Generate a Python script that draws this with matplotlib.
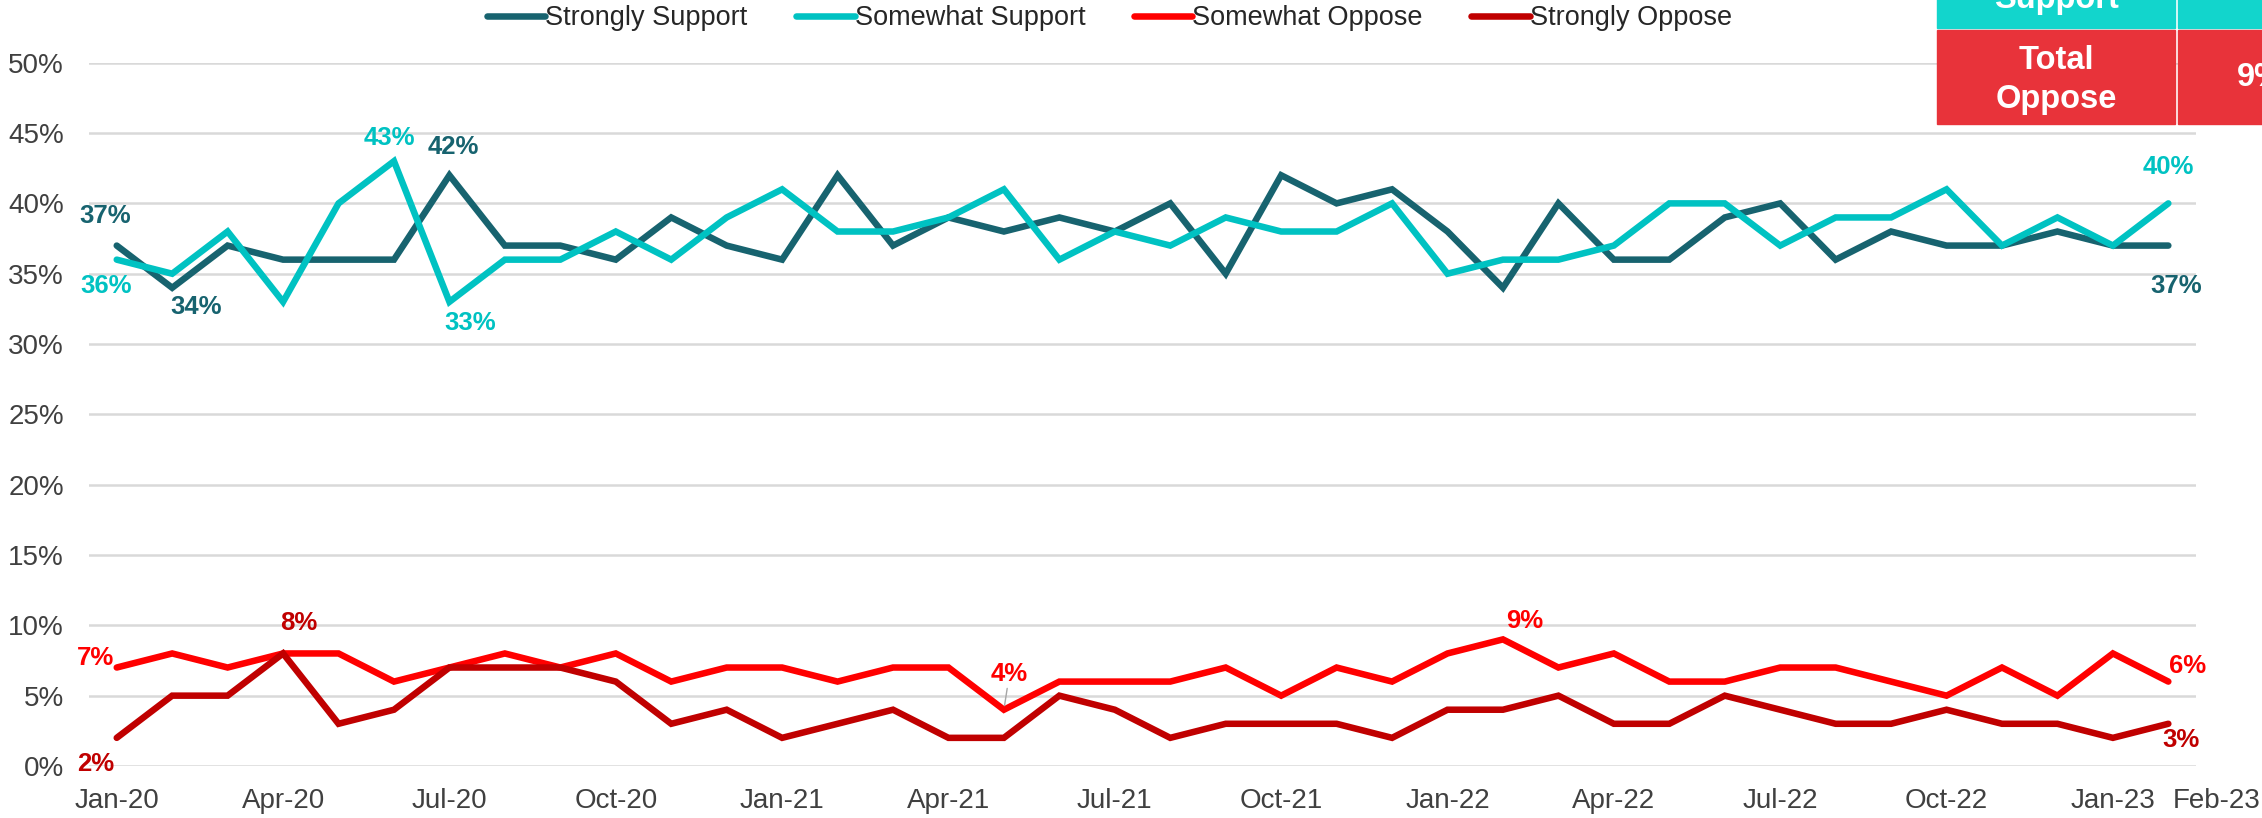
import matplotlib
matplotlib.use("Agg")
import matplotlib.pyplot as plt
import matplotlib.ticker as mtick
import matplotlib.transforms as mtrans
from matplotlib.patches import Rectangle

plt.rcParams["font.family"] = ["Liberation Sans", "DejaVu Sans"]

TEAL_DARK = "#17636F"
TEAL = "#00C2C2"
RED = "#FF0000"
RED_DARK = "#C00000"
TEXT = "#404040"
GRID = "#D9D9D9"

# monthly survey, Jan-20 .. Feb-23
months = ["Jan-20", "Feb-20", "Mar-20", "Apr-20", "May-20", "Jun-20", "Jul-20", "Aug-20",
          "Sep-20", "Oct-20", "Nov-20", "Dec-20", "Jan-21", "Feb-21", "Mar-21", "Apr-21",
          "May-21", "Jun-21", "Jul-21", "Aug-21", "Sep-21", "Oct-21", "Nov-21", "Dec-21",
          "Jan-22", "Feb-22", "Mar-22", "Apr-22", "May-22", "Jun-22", "Jul-22", "Aug-22",
          "Sep-22", "Oct-22", "Nov-22", "Dec-22", "Jan-23", "Feb-23"]

strongly_support = [37, 34, 37, 36, 36, 36, 42, 37, 37, 36, 39, 37,
                    36, 42, 37, 39, 38, 39, 38, 40, 35, 42, 40, 41,
                    38, 34, 40, 36, 36, 39, 40, 36, 38, 37, 37, 38,
                    37, 37]
somewhat_support = [36, 35, 38, 33, 40, 43, 33, 36, 36, 38, 36, 39,
                    41, 38, 38, 39, 41, 36, 38, 37, 39, 38, 38, 40,
                    35, 36, 36, 37, 40, 40, 37, 39, 39, 41, 37, 39,
                    37, 40]
somewhat_oppose = [7, 8, 7, 8, 8, 6, 7, 8, 7, 8, 6, 7,
                   7, 6, 7, 7, 4, 6, 6, 6, 7, 5, 7, 6,
                   8, 9, 7, 8, 6, 6, 7, 7, 6, 5, 7, 5,
                   8, 6]
strongly_oppose = [2, 5, 5, 8, 3, 4, 7, 7, 7, 6, 3, 4,
                   2, 3, 4, 2, 2, 5, 4, 2, 3, 3, 3, 2,
                   4, 4, 5, 3, 3, 5, 4, 3, 3, 4, 3, 3,
                   2, 3]

tick_months = ["Jan-20", "Apr-20", "Jul-20", "Oct-20", "Jan-21", "Apr-21", "Jul-21",
               "Oct-21", "Jan-22", "Apr-22", "Jul-22", "Oct-22", "Jan-23", "Feb-23"]

series = [
    ("Strongly Support", strongly_support, TEAL_DARK),
    ("Somewhat Support", somewhat_support, TEAL),
    ("Somewhat Oppose", somewhat_oppose, RED),
    ("Strongly Oppose", strongly_oppose, RED_DARK),
]

# (series index, month, dx, dy) for the called-out points
callouts = [
    (0, "Jan-20", -8, 21), (1, "Jan-20", -8, -19), (0, "Feb-20", 17, -14),
    (1, "Jun-20", -3, 17), (0, "Jul-20", 3, 20), (1, "Jul-20", 15, -15),
    (1, "Feb-23", 0, 26), (0, "Feb-23", 6, -29),
    (2, "Jan-20", -15, 7), (3, "Jan-20", -15, -19), (3, "Apr-20", 11, 22),
    (2, "May-21", 4, 26), (2, "Feb-22", 16, 13), (2, "Feb-23", 14, 11),
    (3, "Feb-23", 9, -12),
]

fig = plt.figure(figsize=(22.62, 8.18), dpi=100)
ax = fig.add_axes([0.03935, 0.0636, 0.9315, 0.8597])

x = list(range(len(months)))
for name, vals, color in series:
    ax.plot(x, [v / 100 for v in vals], color=color, linewidth=4.7, label=name,
            solid_joinstyle="miter", solid_capstyle="round", zorder=3)

for si, m, dx, dy in callouts:
    name, vals, color = series[si]
    i = months.index(m)
    v = vals[i]
    arrow = None
    if m == "May-21":
        arrow = dict(arrowstyle="-", color="#A6A6A6", lw=1, shrinkA=0, shrinkB=3)
    ax.annotate(f"{v}%", (i, v / 100), xytext=(dx, dy), textcoords="offset points",
                ha="center", va="center", fontsize=18.5, fontweight="bold", color=color,
                arrowprops=arrow, zorder=4)

ax.set_xlim(-0.5, len(months) - 0.5)
ax.set_ylim(0, 0.5)
ax.set_yticks([i / 100 for i in range(0, 51, 5)])
ax.yaxis.set_major_formatter(mtick.FuncFormatter(lambda v, _: f"{v * 100:.0f}%"))
ax.set_xticks([months.index(m) for m in tick_months])
ax.set_xticklabels(tick_months)
ax.tick_params(axis="both", length=0, labelsize=20, colors=TEXT)
ax.tick_params(axis="x", pad=16)
ax.tick_params(axis="y", pad=18)
ax.grid(True, axis="y", color=GRID, linewidth=1.8)
ax.set_axisbelow(True)
for s in ax.spines.values():
    s.set_visible(False)

# last two month labels sit close together; push the final one to the right
last = ax.get_xticklabels()[-1]
last.set_transform(last.get_transform() + mtrans.ScaledTranslation(35 / 72, 0, fig.dpi_scale_trans))

fig.legend(loc="center", bbox_to_anchor=(0.4905, 0.978), ncol=4, frameon=False,
           fontsize=19.5, handlelength=2.15, handletextpad=0.0, columnspacing=1.8,
           labelcolor="#262626")

# summary table in the top right corner
W, H = 2262, 818
def px_rect(x0, y0, x1, y1, color):
    fig.patches.append(Rectangle((x0 / W, 1 - y1 / H), (x1 - x0) / W, (y1 - y0) / H,
                                 transform=fig.transFigure, color=color, zorder=5))

px_rect(1937, -40, 2175, 28, "#12D5CC")
px_rect(2178, -40, 2300, 28, "#12D5CC")
px_rect(1937, 30, 2175, 124, "#E8333A")
px_rect(2178, 30, 2300, 124, "#E8333A")
fig.text(2056 / W, 1 - 8 / H, "Support", ha="center", va="baseline", fontsize=23.5,
         fontweight="bold", color="white", zorder=6)
fig.text(2056 / W, 1 - 80 / H, "Total\nOppose", ha="center", va="center", fontsize=23.5,
         fontweight="bold", color="white", linespacing=1.3, zorder=6)
fig.text(2237 / W, 1 - 78 / H, "9%", ha="left", va="center", fontsize=23.5,
         fontweight="bold", color="white", zorder=6)

fig.savefig("out.png", dpi=100)
